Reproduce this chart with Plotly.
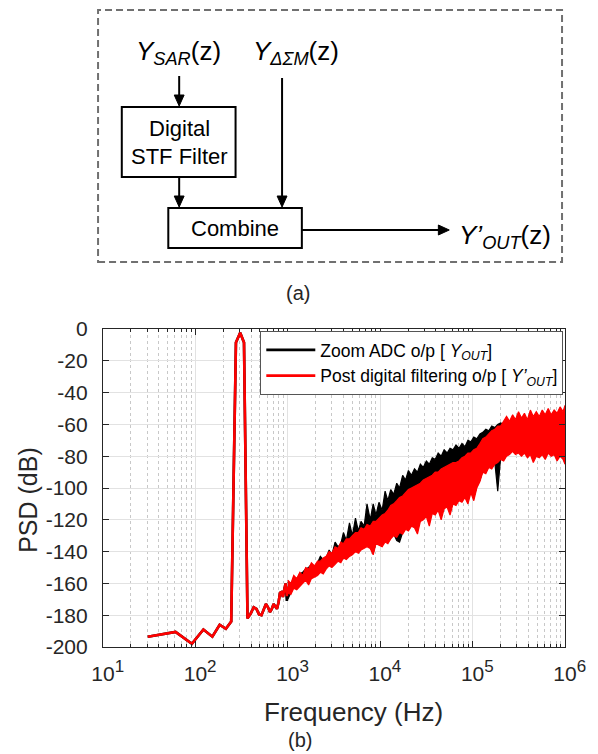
import plotly.graph_objects as go

# ---------------- data ----------------
low_freq_hz = [30.5, 61.0, 91.6, 122.1, 152.6, 183.1, 213.6, 244.1, 274.7, 305.2, 335.7,
               366.2, 396.7, 427.2, 457.8, 488.3, 518.8, 549.3, 579.8, 610.4, 640.9, 671.4,
               701.9, 732.4, 762.9, 793.5, 824.0, 854.5, 885.0, 915.5, 946.0, 976.6, 1000.0]
red_low_db = [-193.5, -190.5, -198, -189, -193.5, -186, -188.5, -184, -8.5, -2.3, -8.5,
              -182, -179, -175, -176, -179.5, -180, -176, -173, -175, -178, -176,
              -173, -174.5, -176, -172, -166, -165.5, -168.5, -164, -160, -168, -162]
black_low_db = [-193.5, -190.5, -198, -189, -193.5, -186, -188.5, -184, -8.5, -2.3, -8.5,
                -182, -179, -175, -176, -179.5, -180, -176, -173, -175, -178, -176,
                -173, -174.5, -176, -172, -166, -165.5, -168.5, -164, -160, -171, -162]

band_freq_hz = [1000, 1080, 1160, 1250, 1350, 1450, 1560, 1680, 1800, 1950,
                2100, 2250, 2420, 2600, 2800, 3000, 3250, 3500, 3750, 4000,
                4300, 4650, 5000, 5400, 5800, 6200, 6700, 7200, 7800, 8400,
                9000, 9700, 10500, 11300, 12100, 13000, 14000, 15100, 16200, 17500,
                18800, 20200, 21800, 23500, 25300, 27200, 29300, 31600, 34000, 36600,
                39400, 42400, 45700, 49200, 53000, 57000, 61400, 66100, 71200, 76700,
                82600, 89000, 95800, 103000, 111000, 120000, 129000, 139000, 150000, 161000,
                174000, 187000, 201000, 217000, 233000, 251000, 271000, 291000, 314000, 338000,
                364000, 392000, 422000, 454000, 489000, 527000, 567000, 611000, 658000, 708000,
                763000, 821000, 884000, 952000, 1000000]
red_top_db = [-158, -160, -155, -157, -153, -155, -150, -151, -147, -149,
              -146, -146, -144, -143, -140, -141, -137, -138, -134, -135,
              -132, -132, -130, -128, -128, -125, -126, -123, -124, -121,
              -121, -119, -117, -116, -114, -111, -110, -108, -106, -105,
              -103, -101, -100, -99, -98, -97, -95, -94, -93, -92,
              -90, -90, -88, -87, -86, -85, -84, -84, -83, -81,
              -80, -78, -78, -76, -75, -72, -69, -68, -66, -64,
              -63, -61, -61, -58, -55, -58, -54, -57, -52, -56,
              -53, -57, -51, -55, -52, -55, -51, -54, -50, -54,
              -51, -53, -49, -52, -48]
red_bottom_db = [-166, -167, -163, -164, -162, -160, -158, -161, -157, -156,
                 -155, -153, -154, -151, -149, -150, -148, -146, -147, -144,
                 -145, -143, -142, -140, -141, -139, -138, -137, -138, -142,
                 -135, -136, -137, -134, -135, -132, -130, -131, -128, -129,
                 -126, -127, -124, -125, -129, -121, -120, -118, -124, -116,
                 -117, -114, -120, -113, -112, -117, -110, -111, -108, -109,
                 -106, -110, -103, -108, -100, -96, -90, -91, -87, -88,
                 -85, -84, -82, -83, -80, -79, -77, -79, -78, -80,
                 -78, -81, -79, -84, -80, -81, -79, -82, -78, -80,
                 -79, -83, -80, -82, -85]
black_top_db = [-159, -161, -156, -158, -154, -153, -151, -150, -148, -150,
                -147, -143, -145, -144, -139, -142, -134, -137, -135, -128,
                -133, -122, -130, -119, -127, -121, -124, -110, -120, -110,
                -117, -109, -114, -102, -108, -101, -104, -97, -100, -92,
                -95, -89, -92, -88, -90, -85, -87, -83, -85, -81,
                -82, -78, -80, -76, -78, -75, -76, -73, -75, -72,
                -74, -70, -71, -68, -69, -66, -65, -63, -64, -61,
                -62, -60, -59, -60, -57, -60, -56, -59, -54, -58,
                -55, -59, -53, -57, -54, -57, -53, -56, -52, -56,
                -53, -55, -51, -54, -50]
black_bottom_db = [-170, -166, -162, -163, -161, -159, -157, -160, -156, -155,
                   -154, -152, -153, -150, -148, -149, -147, -145, -146, -143,
                   -144, -142, -141, -139, -140, -138, -137, -136, -137, -141,
                   -134, -135, -134, -133, -134, -131, -129, -133, -134, -128,
                   -125, -126, -123, -124, -125, -120, -119, -117, -118, -115,
                   -116, -113, -115, -112, -111, -113, -109, -110, -107, -108,
                   -105, -107, -102, -106, -99, -95, -89, -90, -86, -87,
                   -84, -102, -81, -82, -79, -78, -76, -78, -77, -79,
                   -77, -80, -78, -80, -79, -80, -78, -81, -77, -79,
                   -78, -82, -79, -81, -84]

x_tick_vals = [10, 100, 1000, 10000, 100000, 1000000]
x_tick_exponents = ["1", "2", "3", "4", "5", "6"]
y_tick_vals = [-200, -180, -160, -140, -120, -100, -80, -60, -40, -20, 0]
y_tick_text = ["-200", "-180", "-160", "-140", "-120", "-100", "-80", "-60", "-40", "-20", "0"]

legend_names = ["Zoom ADC o/p [ <i>Y</i><sub><i>OUT</i></sub>]",
                "Post digital filtering o/p [ <i>Y\u2019</i><sub><i>OUT</i></sub>]"]

# x tick labels: "10" centred on the tick with a raised exponent hanging to the right
SUP = "<sup><span style='font-size:17px'>{}</span></sup>"
x_tick_text = [SUP.format("\u2007") + "10" + SUP.format(e) for e in x_tick_exponents]

# ---------------- layout helpers (pixel -> paper) ----------------
PL, PR, PT, PB = 103, 570, 329, 647


def xp(px):
    return (px - PL) / (PR - PL)


def yp(py):
    return (PB - py) / (PB - PT)


FONT = "Liberation Sans, Arial, sans-serif"

fig = go.Figure()

# black series
fig.add_trace(go.Scatter(x=low_freq_hz, y=black_low_db, mode="lines",
                         line=dict(color="#000000", width=2.6), name=legend_names[0]))
fig.add_trace(go.Scatter(x=band_freq_hz + band_freq_hz[::-1],
                         y=black_top_db + black_bottom_db[::-1],
                         mode="lines", fill="toself", fillcolor="#000000",
                         line=dict(color="#000000", width=1.2), showlegend=False,
                         hoverinfo="skip"))
# red series
fig.add_trace(go.Scatter(x=low_freq_hz, y=red_low_db, mode="lines",
                         line=dict(color="#ff0000", width=2.6), name=legend_names[1]))
fig.add_trace(go.Scatter(x=band_freq_hz + band_freq_hz[::-1],
                         y=red_top_db + red_bottom_db[::-1],
                         mode="lines", fill="toself", fillcolor="#ff0000",
                         line=dict(color="#ff0000", width=1.2), showlegend=False,
                         hoverinfo="skip"))

minor_x = [m * 10 ** e for e in range(1, 6) for m in range(2, 10)]

shapes = []
# dashed outer frame of block diagram
shapes.append(dict(type="rect", xref="paper", yref="paper",
                   x0=xp(98), x1=xp(567), y0=yp(262), y1=yp(10),
                   line=dict(color="#707070", width=2, dash="7px,4px")))
# blocks
for (x0, y0, x1, y1) in [(122, 107, 237, 177), (169, 208, 304, 248)]:
    shapes.append(dict(type="rect", xref="paper", yref="paper",
                       x0=xp(x0), x1=xp(x1), y0=yp(y1), y1=yp(y0),
                       line=dict(color="black", width=2)))


def v_arrow(x, y_start, y_tip):
    shapes.append(dict(type="line", xref="paper", yref="paper",
                       x0=xp(x), x1=xp(x), y0=yp(y_start), y1=yp(y_tip - 9),
                       line=dict(color="black", width=2)))
    path = "M {} {} L {} {} L {} {} Z".format(xp(x - 5), yp(y_tip - 11), xp(x + 5), yp(y_tip - 11),
                                               xp(x), yp(y_tip))
    shapes.append(dict(type="path", xref="paper", yref="paper", path=path,
                       fillcolor="black", line=dict(color="black", width=1)))


def h_arrow(y, x_start, x_tip):
    shapes.append(dict(type="line", xref="paper", yref="paper",
                       x0=xp(x_start), x1=xp(x_tip - 9), y0=yp(y), y1=yp(y),
                       line=dict(color="black", width=2)))
    path = "M {} {} L {} {} L {} {} Z".format(xp(x_tip - 11), yp(y - 5), xp(x_tip - 11), yp(y + 5),
                                               xp(x_tip), yp(y))
    shapes.append(dict(type="path", xref="paper", yref="paper", path=path,
                       fillcolor="black", line=dict(color="black", width=1)))


v_arrow(180, 76, 106)
v_arrow(180, 177, 207)
v_arrow(284, 78, 207)
h_arrow(230, 304, 453)

annotations = []


def text(px, py, s, size, color="black", angle=0):
    annotations.append(dict(x=xp(px), y=yp(py), xref="paper", yref="paper", text=s,
                            showarrow=False, xanchor="center", yanchor="middle",
                            textangle=angle, font=dict(size=size, color=color, family=FONT)))


text(179.5, 52, "<i>Y</i><sub><i>SAR</i></sub>(z)", 26)
text(298.5, 52, "<i>Y</i><sub><i>\u0394\u03a3M</i></sub>(z)", 26)
text(180, 128, "Digital", 22)
text(180, 157, "STF Filter", 22)
text(236.5, 228, "Combine", 22)
text(509.5, 236, "<i>Y\u2019</i><sub><i>OUT</i></sub>(z)", 26)
text(300, 293, "(a)", 20, "#262626")
text(302, 740, "(b)", 20, "#262626")
text(356, 712, "Frequency (Hz)", 26, "#262626")
text(27, 500, "PSD (dB)", 25, "#262626", -90)

fig.update_layout(
    width=598, height=754,
    margin=dict(l=PL, r=598 - PR, t=PT, b=754 - PB, pad=0),
    paper_bgcolor="white", plot_bgcolor="white",
    font=dict(family=FONT, color="#262626"),
    shapes=shapes, annotations=annotations,
    showlegend=True,
    legend=dict(x=xp(262), y=yp(331), xanchor="left", yanchor="top",
                bgcolor="white", bordercolor="#555555", borderwidth=1,
                font=dict(size=17.5, color="black", family=FONT),
                itemwidth=49, tracegroupgap=0),
    xaxis=dict(type="log", range=[1, 6], tickmode="array", tickvals=x_tick_vals,
               ticktext=x_tick_text, ticks="inside", ticklen=6, tickwidth=1,
               tickcolor="#262626", showline=True, linecolor="#262626", linewidth=1.2,
               mirror="ticks", showgrid=True, gridcolor="#e2e2e2", gridwidth=1,
               zeroline=False, tickfont=dict(size=21, color="#262626", family=FONT),
               ticklabelstandoff=8,
               minor=dict(tickmode="array", tickvals=minor_x, ticks="inside", ticklen=3,
                          tickcolor="#262626", showgrid=True, gridcolor="#c8c8c8",
                          griddash="dot", gridwidth=1)),
    yaxis=dict(range=[-200, 0], tickmode="array", tickvals=y_tick_vals,
               ticktext=y_tick_text, ticks="inside", ticklen=6, tickwidth=1,
               tickcolor="#262626", showline=True, linecolor="#262626", linewidth=1.2,
               mirror="ticks", showgrid=True, gridcolor="#e2e2e2", gridwidth=1,
               zeroline=False, tickfont=dict(size=21, color="#262626", family=FONT),
               ticklabelstandoff=10),
)

fig.write_html("out.html", config={"displayModeBar": False},
               post_script="document.body.style.margin='0';document.body.style.padding='0';")
